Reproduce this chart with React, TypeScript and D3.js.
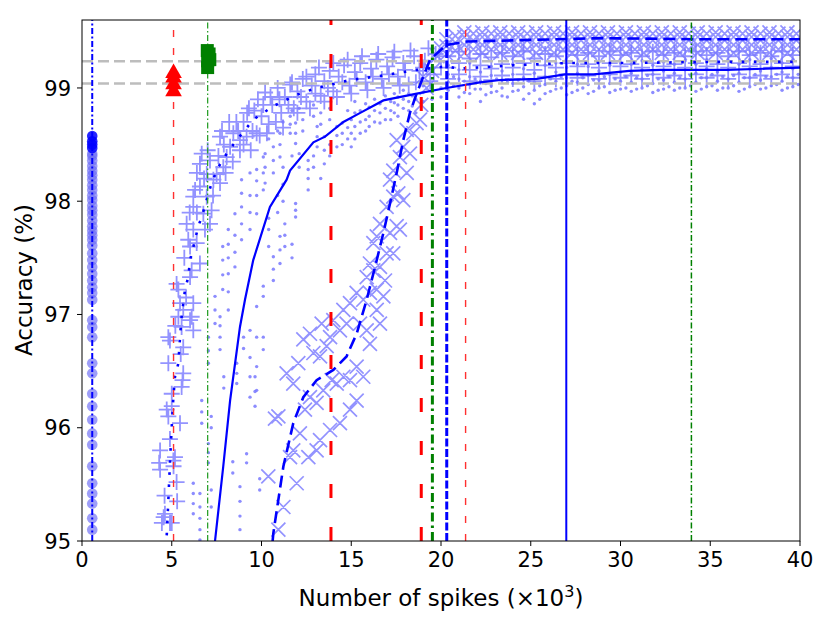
import React from 'react';
import * as d3 from 'd3';

// Accuracy vs number of spikes (x in thousands)
const W = 830;
const H = 623;

const circleX = 0.57;
const circleAcc = [95.1, 95.2, 95.33, 95.42, 95.51, 95.66, 95.85, 95.95, 96.07, 96.19, 96.3, 96.48, 96.57, 96.8, 96.89, 96.95,
  97.13, 97.19, 97.24, 97.3, 97.36, 97.42, 97.48, 97.54, 97.61, 97.66, 97.7, 97.74, 97.78, 97.83, 97.88, 97.92, 97.96, 98.01,
  98.05, 98.1, 98.14, 98.19, 98.23, 98.27, 98.31, 98.36, 98.4, 98.42];
const circleTopAcc = [98.47, 98.5, 98.53, 98.575];

const triangleX = 5.1;
const triangleAcc = [98.97, 99.03, 99.09, 99.13];
const squarePts: [number, number][] = [[7.0, 99.18], [7.0, 99.24], [7.08, 99.3], [7.12, 99.25], [6.98, 99.33]];

const grayLevels = [99.236, 99.04];

const vLineX = [0.57, 5.1, 7.0, 13.87, 18.9, 19.52, 20.32, 21.37, 26.98, 33.95];

const plusPts: [number, number][] = [
  [4.45, 95.16], [5.0, 95.16], [4.55, 95.21], [4.62, 95.24], [4.9, 95.16], [4.35, 95.8], [4.35, 95.63], [4.3, 95.69],
  [5.09, 95.71], [5.1, 95.66], [5.18, 95.74], [5.27, 95.52], [5.0, 96.19], [5.0, 96.3], [4.72, 96.16], [4.81, 96.1],
  [5.46, 96.04], [5.55, 96.36], [4.81, 96.8], [4.9, 96.77], [4.81, 96.57], [5.64, 96.48], [5.64, 96.71], [5.6, 96.42],
  [5.37, 96.98], [5.55, 96.89], [6.02, 96.95], [6.2, 96.86], [5.37, 97.22], [5.27, 97.27], [5.46, 97.1], [5.64, 97.04],
  [6.2, 97.1], [6.11, 96.98], [5.83, 97.8], [5.92, 97.66], [6.02, 97.6], [6.39, 97.63], [6.2, 97.75], [6.57, 97.45],
  [6.11, 97.39], [6.02, 97.33], [6.3, 98.1], [6.2, 98.04], [6.57, 98.13], [6.95, 98.04], [7.22, 97.92], [6.76, 97.89],
  [7.13, 97.8], [6.85, 97.75], [6.67, 98.42], [6.57, 98.33], [7.13, 98.36], [7.5, 98.24], [7.69, 98.16], [7.87, 98.3],
  [7.32, 98.19], [6.95, 98.24], [7.69, 98.57], [8.43, 98.6], [8.8, 98.54], [8.25, 98.48], [9.17, 98.57], [9.73, 98.6],
  [8.06, 98.39], [8.8, 98.45], [7.9, 98.5], [8.6, 98.7],
  [5.7, 97.5], [5.8, 97.15], [6.0, 97.9], [5.5, 96.65], [5.2, 96.9], [4.6, 95.4], [4.9, 95.9], [5.3, 95.35],
  [6.4, 98.25], [6.2, 97.95], [6.4, 97.9], [6.8, 98.2], [7.0, 98.45], [7.3, 98.05], [7.6, 98.4], [7.8, 98.62],
  [8.0, 98.25], [8.2, 98.7], [8.4, 98.35], [8.7, 98.62], [9.0, 98.5], [9.2, 98.78], [9.4, 98.45], [9.6, 98.8],
  [9.9, 98.58], [10.1, 98.85], [10.3, 98.6], [10.5, 98.92], [10.8, 98.7], [11.0, 98.9], [11.2, 98.65], [11.5, 98.85],
  [11.7, 99.05], [12.0, 98.78], [12.2, 98.92], [12.5, 99.1], [12.7, 98.82], [13.0, 98.95], [13.2, 99.18], [13.5, 98.88],
  [13.7, 99.0], [14.0, 99.22], [14.2, 98.92], [14.5, 99.05], [14.8, 99.25], [15.0, 98.95], [15.3, 99.08], [15.6, 99.28],
  [15.9, 98.98], [16.2, 99.1], [16.5, 99.3], [16.8, 99.0], [17.1, 99.12], [17.4, 99.32], [17.7, 99.02], [18.0, 99.16],
  [18.3, 99.33], [18.6, 99.05], [19.0, 99.18], [19.3, 99.35], [19.6, 99.12], [19.9, 99.28],
  [9.0, 98.7], [9.3, 98.82], [9.5, 98.62], [9.8, 98.9], [10.0, 98.75], [10.2, 98.96], [10.4, 98.68], [10.6, 98.85],
  [10.9, 99.0], [11.1, 98.78], [11.3, 98.92], [11.6, 99.03], [11.8, 98.82], [12.0, 98.97], [12.3, 99.08], [12.5, 98.88],
  [12.8, 99.02], [13.0, 99.12], [13.3, 98.93], [13.5, 99.06], [13.8, 99.15], [14.0, 98.97], [14.3, 99.1], [14.6, 99.2],
  [14.9, 99.02], [15.2, 99.14], [15.5, 99.22], [15.8, 99.05], [16.1, 99.17], [16.4, 99.25], [16.7, 99.08], [17.0, 99.19],
  [17.3, 99.27], [17.6, 99.1], [17.9, 99.22], [18.2, 99.03], [18.5, 99.28], [18.8, 99.15], [19.1, 99.24], [19.4, 99.06],
  [19.7, 99.3], [20.0, 99.18],
];

const plusCols = [
  [20.4, 99.08, 99.18, 99.28], [21.0, 99.12, 99.22, 99.32], [21.6, 99.06, 99.16, 99.26], [22.2, 99.1, 99.2, 99.3],
  [22.8, 99.07, 99.17, 99.27], [23.4, 99.11, 99.21, 99.31], [24.0, 99.08, 99.18, 99.28], [24.6, 99.12, 99.22, 99.32],
  [25.2, 99.06, 99.16, 99.26], [25.8, 99.1, 99.2, 99.3], [26.4, 99.08, 99.18, 99.28], [27.0, 99.12, 99.22, 99.32],
  [27.6, 99.09, 99.19, 99.29], [28.2, 99.11, 99.21, 99.31], [28.8, 99.08, 99.18, 99.28], [29.4, 99.12, 99.22, 99.32],
  [30.0, 99.09, 99.19, 99.29], [30.6, 99.11, 99.21, 99.31], [31.2, 99.08, 99.18, 99.28], [31.8, 99.12, 99.22, 99.32],
  [32.4, 99.09, 99.19, 99.29], [33.0, 99.11, 99.21, 99.31], [33.6, 99.08, 99.18, 99.28], [34.2, 99.12, 99.22, 99.32],
  [34.8, 99.09, 99.19, 99.29], [35.4, 99.11, 99.21, 99.31], [36.0, 99.08, 99.18, 99.28], [36.6, 99.12, 99.22, 99.32],
  [37.2, 99.09, 99.19, 99.29], [37.8, 99.11, 99.21, 99.31], [38.4, 99.08, 99.18, 99.28], [39.0, 99.12, 99.22, 99.32],
  [39.6, 99.09, 99.19, 99.29],
];

const crossPts: [number, number][] = [
  [10.38, 95.57], [10.94, 95.1], [11.22, 95.3], [11.96, 95.51], [11.59, 95.74], [11.77, 95.8], [12.61, 95.74], [13.07, 95.8],
  [13.26, 95.89], [13.82, 95.98], [14.37, 96.04], [14.93, 96.16], [15.3, 96.24], [12.14, 95.95], [12.42, 96.16], [12.7, 96.27],
  [13.07, 96.22], [13.44, 96.33], [13.91, 96.42], [14.19, 96.39], [14.56, 96.45], [14.93, 96.42], [15.3, 96.54], [15.67, 96.45],
  [11.4, 96.48], [11.77, 96.39], [12.05, 96.57], [12.33, 96.78], [12.7, 96.83], [12.89, 96.66], [13.26, 96.63], [13.63, 96.72],
  [13.82, 96.8], [13.35, 96.92], [14.0, 96.95], [14.37, 96.86], [14.74, 96.92], [14.56, 97.04], [14.93, 97.1], [15.3, 97.19],
  [15.67, 97.13], [16.04, 97.19], [15.86, 97.33], [16.23, 97.39], [16.04, 97.45], [16.6, 97.42], [16.42, 97.22], [15.49, 96.92],
  [15.86, 96.86], [16.04, 96.74], [16.42, 97.04], [16.79, 97.16], [16.6, 96.92], [16.88, 97.3], [16.97, 97.54], [16.23, 97.63],
  [16.42, 97.69], [17.16, 97.72], [17.34, 97.54], [17.53, 97.78], [16.6, 97.8], [16.97, 97.95], [17.71, 97.75], [17.62, 98.07],
  [17.34, 98.04], [17.9, 98.01], [17.16, 98.19], [17.34, 98.27], [18.09, 98.25], [17.71, 98.39], [17.9, 98.48], [18.27, 98.42],
  [17.53, 98.54], [18.46, 98.6], [18.64, 98.69], [18.09, 98.63], [18.83, 98.72], [10.75, 96.08], [10.94, 96.1],
  [18.9, 98.85], [19.2, 99.0], [19.5, 99.15], [19.8, 99.28], [20.0, 99.35], [19.0, 99.1],
];

const crossCols = [
  [20.3, 99.3, 99.37, 99.43], [20.8, 99.33, 99.4, 99.46], [21.3, 99.31, 99.38, 99.45, 99.49], [21.8, 99.34, 99.42, 99.48],
  [22.3, 99.31, 99.38, 99.45, 99.49], [22.8, 99.34, 99.42, 99.48], [23.3, 99.31, 99.38, 99.45, 99.49], [23.8, 99.34, 99.42, 99.48],
  [24.3, 99.31, 99.38, 99.45, 99.49], [24.8, 99.34, 99.42, 99.48], [25.3, 99.31, 99.38, 99.45, 99.49], [25.8, 99.34, 99.42, 99.48],
  [26.3, 99.31, 99.38, 99.45, 99.49], [26.8, 99.34, 99.42, 99.48], [27.3, 99.31, 99.38, 99.45, 99.49], [27.8, 99.34, 99.42, 99.48],
  [28.3, 99.31, 99.38, 99.45, 99.49], [28.8, 99.34, 99.42, 99.48], [29.3, 99.31, 99.38, 99.45, 99.49], [29.8, 99.34, 99.42, 99.48],
  [30.3, 99.31, 99.38, 99.45, 99.49], [30.8, 99.34, 99.42, 99.48], [31.3, 99.31, 99.38, 99.45, 99.49], [31.8, 99.34, 99.42, 99.48],
  [32.3, 99.31, 99.38, 99.45, 99.49], [32.8, 99.34, 99.42, 99.48], [33.3, 99.31, 99.38, 99.45, 99.49], [33.8, 99.34, 99.42, 99.48],
  [34.3, 99.31, 99.38, 99.45, 99.49], [34.8, 99.34, 99.42, 99.48], [35.3, 99.31, 99.38, 99.45, 99.49], [35.8, 99.34, 99.42, 99.48],
  [36.3, 99.31, 99.38, 99.45, 99.49], [36.8, 99.34, 99.42, 99.48], [37.3, 99.31, 99.38, 99.45, 99.49], [37.8, 99.34, 99.42, 99.48],
  [38.3, 99.31, 99.38, 99.45, 99.49], [38.8, 99.34, 99.42, 99.48], [39.3, 99.31, 99.38, 99.45, 99.49], [39.8, 99.34, 99.42, 99.48],
];

const dotCols = [
  [6.2, 95.24, 95.33, 95.42, 95.51], [6.57, 95.01, 95.1, 95.2, 95.3, 95.42], [6.67, 96.04, 96.14, 96.24],
  [7.04, 95.69, 95.78, 95.86, 96.57, 96.68, 96.8], [7.41, 96.92, 97.04, 97.16], [7.69, 96.69, 96.8, 96.9, 96.98],
  [7.84, 97.22, 97.35, 97.48, 97.6], [8.15, 97.04, 97.2, 97.36, 97.5, 97.62, 97.75], [8.52, 97.42, 97.55, 97.7, 97.89],
  [8.62, 96.39, 96.48, 96.57], [8.8, 95.1, 95.22, 95.35, 95.48], [8.89, 97.66, 97.8, 97.95, 98.07, 98.19],
  [9.17, 95.69, 95.77], [9.36, 96.27, 96.45, 96.62, 96.86, 97.75, 97.9, 98.05, 98.25], [9.64, 96.19, 96.32, 96.45],
  [9.73, 96.33, 96.54, 96.8, 97.07, 97.89, 98.05, 98.18, 98.28], [10.1, 96.69, 96.8, 97.16, 97.25, 98.1, 98.25, 98.39],
  [10.2, 98.16, 98.3, 98.42], [10.66, 97.3, 97.4, 97.51, 98.25, 98.36, 98.48], [11.03, 97.45, 97.57, 97.69, 98.39, 98.5, 98.6],
  [11.3, 97.6, 97.7, 97.8], [11.6, 98.6, 98.68, 98.75], [11.9, 97.86, 97.92, 97.98, 98.51, 98.6, 98.69], [12.3, 98.62, 98.72],
  [12.6, 98.1, 98.2, 98.28, 98.36], [13.1, 98.48, 98.57, 98.66], [13.5, 98.33, 98.45, 98.57], [14.2, 98.48, 98.58, 98.66],
  [14.5, 98.5, 98.6, 98.69], [15.0, 98.48, 98.6, 98.72], [15.5, 98.6, 98.7, 98.8], [16.0, 98.66, 98.75, 98.83],
  [16.6, 98.69, 98.78, 98.86], [17.2, 98.72, 98.8, 98.88], [17.6, 98.75, 98.85, 98.92], [18.2, 98.8, 98.88, 98.95],
  [18.6, 98.78, 98.9],
  [10.4, 97.6, 97.75, 97.85, 98.55], [10.9, 97.9, 98.05, 98.62], [11.2, 98.0, 98.15, 98.3, 98.7], [11.7, 97.5, 97.62, 98.4, 98.8],
  [12.1, 98.3, 98.42, 98.82], [12.9, 98.3, 98.4, 98.75, 98.85], [13.3, 98.2, 98.68, 98.78], [13.8, 98.4, 98.5, 98.72, 98.82],
  [14.8, 98.55, 98.65, 98.8], [15.2, 98.55, 98.66, 98.78, 98.88], [15.8, 98.62, 98.72, 98.86], [16.3, 98.7, 98.8, 98.9],
  [16.9, 98.72, 98.82, 98.93], [17.4, 98.78, 98.87, 98.95], [17.9, 98.82, 98.9, 98.98], [18.4, 98.84, 98.93],
  [19.0, 98.88, 98.96, 99.02], [19.5, 98.9, 98.98], [20.0, 98.92, 99.0],
  [7.2, 95.3, 95.45, 96.0, 96.1], [7.9, 96.35, 96.45], [8.4, 95.6, 95.7], [9.0, 96.7, 96.8], [9.9, 95.45, 95.55],
  [20.4, 98.98, 99.05, 99.12, 99.2], [21.0, 98.92, 99.0, 99.08, 99.16], [21.6, 98.95, 99.03, 99.1, 99.22],
  [22.2, 98.88, 98.99, 99.06, 99.14], [22.8, 98.96, 99.02, 99.11, 99.19], [23.4, 98.93, 99.0, 99.07, 99.15],
  [24.0, 98.97, 99.04, 99.12, 99.21], [24.6, 98.9, 99.01, 99.09, 99.17], [25.2, 98.86, 98.98, 99.05, 99.13],
  [25.8, 98.95, 99.03, 99.1, 99.2], [26.4, 98.99, 99.06, 99.14, 99.22], [27.0, 98.94, 99.02, 99.09, 99.18],
  [27.6, 98.98, 99.05, 99.13, 99.21], [28.2, 98.95, 99.03, 99.11, 99.19], [28.8, 99.0, 99.07, 99.15, 99.23],
  [29.4, 98.96, 99.04, 99.12, 99.2], [30.0, 98.99, 99.06, 99.14, 99.22], [30.6, 98.97, 99.05, 99.13, 99.21],
  [31.2, 99.0, 99.08, 99.16, 99.24], [31.8, 98.96, 99.04, 99.12, 99.2], [32.4, 98.99, 99.07, 99.15, 99.23],
  [33.0, 98.98, 99.05, 99.13, 99.21], [33.6, 99.0, 99.08, 99.16, 99.24], [34.2, 98.97, 99.05, 99.13, 99.21],
  [34.8, 99.01, 99.09, 99.17, 99.25], [35.4, 98.98, 99.06, 99.14, 99.22], [36.0, 99.0, 99.08, 99.16, 99.24],
  [36.6, 98.97, 99.05, 99.13, 99.21], [37.2, 99.01, 99.09, 99.17, 99.25], [37.8, 98.99, 99.07, 99.15, 99.23],
  [38.4, 99.02, 99.1, 99.18, 99.26], [39.0, 98.98, 99.06, 99.14, 99.22], [39.6, 99.01, 99.09, 99.17, 99.25],
  [20.7, 99.02, 99.1], [21.3, 98.96, 99.06], [21.9, 98.99, 99.08], [22.5, 98.94, 99.04], [23.1, 98.97, 99.08],
  [23.7, 98.92, 99.05], [24.3, 98.98, 99.07], [24.9, 98.95, 99.06], [25.5, 98.9, 99.02], [26.1, 98.97, 99.08],
  [26.7, 99.0, 99.1], [27.3, 98.96, 99.06], [27.9, 99.0, 99.09], [28.5, 98.97, 99.07], [29.1, 99.01, 99.1],
  [29.7, 98.98, 99.08], [30.3, 99.0, 99.1], [30.9, 98.99, 99.09], [31.5, 99.02, 99.11], [32.1, 98.98, 99.08],
  [32.7, 99.01, 99.1], [33.3, 99.0, 99.09], [33.9, 99.02, 99.11], [34.5, 98.99, 99.09], [35.1, 99.02, 99.12],
  [35.7, 99.0, 99.1], [36.3, 99.02, 99.11], [36.9, 98.99, 99.09], [37.5, 99.03, 99.12], [38.1, 99.0, 99.1],
  [38.7, 99.03, 99.12], [39.3, 99.0, 99.1], [39.9, 99.03, 99.12],
];

// mean curves
const plusMean: [number, number][] = [
  [4.72, 95.05], [4.81, 95.36], [4.9, 95.69], [4.99, 95.98], [5.09, 96.27], [5.18, 96.45], [5.37, 96.57], [5.46, 96.8],
  [5.55, 96.98], [5.74, 97.22], [5.92, 97.33], [6.02, 97.48], [6.3, 97.66], [6.48, 97.78], [6.67, 97.86], [6.94, 98.01],
  [7.22, 98.16], [7.59, 98.3], [8.06, 98.42], [8.62, 98.54], [9.54, 98.72], [10.66, 98.84], [11.96, 98.94], [13.07, 99.0],
  [14.93, 99.07], [16.79, 99.11], [18.65, 99.16], [20.3, 99.19], [21.0, 99.17], [24.0, 99.2], [27.0, 99.22], [30.0, 99.22],
  [35.0, 99.23], [40.0, 99.23],
];
const dotMean: [number, number][] = [
  [7.41, 95.0], [7.87, 95.66], [8.25, 96.24], [8.8, 96.89], [9.08, 97.13], [9.54, 97.48], [10.47, 97.95], [11.4, 98.19],
  [11.59, 98.27], [12.89, 98.52], [13.54, 98.57], [14.56, 98.7], [15.5, 98.78], [16.79, 98.89], [18.65, 98.95], [20.3, 99.0],
  [22.17, 99.05], [23.3, 99.07], [25.33, 99.08], [26.9, 99.12], [28.5, 99.12], [30.5, 99.15], [32.2, 99.16], [35.9, 99.16],
  [38.1, 99.17], [40.0, 99.18],
];
const crossMean: [number, number][] = [
  [10.62, 95.0], [10.66, 95.07], [11.22, 95.66], [11.77, 96.04], [12.33, 96.27], [13.07, 96.42], [14.0, 96.51], [14.74, 96.63],
  [15.3, 96.83], [15.86, 97.13], [16.42, 97.48], [16.79, 97.72], [17.16, 97.98], [17.53, 98.25], [17.9, 98.54], [18.27, 98.78],
  [18.64, 98.95], [19.39, 99.25], [20.3, 99.38], [21.43, 99.41], [24.03, 99.42], [28.9, 99.44], [34.4, 99.43], [40.0, 99.43],
];

const xTicks = [0, 5, 10, 15, 20, 25, 30, 35, 40];
const yTicks = [95, 96, 97, 98, 99];

const vLineStyle = [
  { c: '#0000ff', w: 2, d: '6,2.5,2,2.5' },
  { c: '#ff3030', w: 1.4, d: '7,11' },
  { c: '#2ca02c', w: 1.3, d: '6,2.5,1.5,2.5' },
  { c: '#ff0000', w: 3, d: '14,29' },
  { c: '#ff0000', w: 3, d: '14,29' },
  { c: '#008000', w: 3, d: '9,4,2.5,4' },
  { c: '#0000ff', w: 3, d: '8,2.5' },
  { c: '#ff3030', w: 1.4, d: '7,11' },
  { c: '#0000ff', w: 2, d: '' },
  { c: '#008000', w: 1.5, d: '6,2.5,1.5,2.5' },
];

const flat = (cols: number[][]): [number, number][] =>
  cols.flatMap(c => c.slice(1).map(v => [c[0], v] as [number, number]));

const FONT = 'DejaVu Sans, sans-serif';
const MARK = '#7878ff';

export default function App() {
  const x = d3.scaleLinear().domain([0, 40]).range([82, 800]);
  const y = d3.scaleLinear().domain([95, 99.6]).range([541, 20]);
  const line = d3.line<[number, number]>().x(d => x(d[0])).y(d => y(d[1]));

  const allPlus = plusPts.concat(flat(plusCols));
  const allCross = crossPts.concat(flat(crossCols));
  const allDots = flat(dotCols);

  const ph = 8;
  const xh = 7;
  const plusPath = allPlus
    .map(([a, b]) => `M${x(a) - ph},${y(b)}H${x(a) + ph}M${x(a)},${y(b) - ph}V${y(b) + ph}`)
    .join('');
  const crossPath = allCross
    .map(([a, b]) => {
      const cx = x(a), cy = y(b);
      return `M${cx - xh},${cy - xh}L${cx + xh},${cy + xh}M${cx - xh},${cy + xh}L${cx + xh},${cy - xh}`;
    })
    .join('');
  const tri = d3.symbol(d3.symbolTriangle, 120)();

  return (
    <div style={{ position: 'absolute', left: 0, top: 0 }}>
      <svg width={W} height={H} style={{ display: 'block', background: '#fff' }} fontFamily={FONT}>
        <defs>
          <clipPath id="plot">
            <rect x={82} y={20} width={718} height={521} />
          </clipPath>
        </defs>
        <g clipPath="url(#plot)">
          {allDots.map(([a, b], i) => (
            <circle key={'d' + i} cx={x(a)} cy={y(b)} r={1.7} fill={MARK} opacity={0.85} />
          ))}
          <path d={plusPath} stroke={MARK} strokeWidth={1.8} fill="none" opacity={0.8} />
          <path d={crossPath} stroke={MARK} strokeWidth={1.7} fill="none" opacity={0.8} />
          {circleAcc.map((v, i) => (
            <circle key={'c' + i} cx={x(circleX)} cy={y(v)} r={5.3} fill="#6a6af5" opacity={0.65} />
          ))}
          {circleTopAcc.map((v, i) => (
            <circle key={'ct' + i} cx={x(circleX)} cy={y(v)} r={5.3} fill="#0000ff" opacity={0.85} />
          ))}
          {grayLevels.map((v, i) => (
            <line key={'g' + i} x1={82} x2={800} y1={y(v)} y2={y(v)} stroke="#bdbdbd" strokeWidth={2.5} strokeDasharray="11,5" />
          ))}
          <path d={line(plusMean) || ''} fill="none" stroke="#0000ff" strokeWidth={2.6} strokeDasharray="2.6,9.5" />
          <path d={line(dotMean) || ''} fill="none" stroke="#0000ff" strokeWidth={2.2} />
          <path d={line(crossMean) || ''} fill="none" stroke="#0000ff" strokeWidth={2.6} strokeDasharray="12,6" />
          {vLineX.map((v, i) => (
            <line
              key={'v' + i}
              x1={x(v)} x2={x(v)} y1={541} y2={20}
              stroke={vLineStyle[i].c}
              strokeWidth={vLineStyle[i].w}
              strokeDasharray={vLineStyle[i].d || undefined}
            />
          ))}
          {triangleAcc.map((v, i) => (
            <path key={'t' + i} d={tri || ''} transform={`translate(${x(triangleX)},${y(v)})`} fill="#ff0000" />
          ))}
          {squarePts.map(([a, b], i) => (
            <rect key={'s' + i} x={x(a) - 6.5} y={y(b) - 6.5} width={13} height={13} fill="#008000" />
          ))}
        </g>
        <rect x={82} y={20} width={718} height={521} fill="none" stroke="#000" strokeWidth={1} />
        {xTicks.map(t => (
          <g key={'xt' + t}>
            <line x1={x(t)} x2={x(t)} y1={541} y2={546} stroke="#000" />
            <text x={x(t)} y={567} textAnchor="middle" fontSize={21}>{t}</text>
          </g>
        ))}
        {yTicks.map(t => (
          <g key={'yt' + t}>
            <line x1={77} x2={82} y1={y(t)} y2={y(t)} stroke="#000" />
            <text x={71} y={y(t)} dy="0.36em" textAnchor="end" fontSize={21}>{t}</text>
          </g>
        ))}
        <text x={441} y={606} textAnchor="middle" fontSize={23}>
          Number of spikes (×10<tspan dy={-9} fontSize={16}>3</tspan><tspan dy={9}>)</tspan>
        </text>
        <text transform="translate(32,280) rotate(-90)" textAnchor="middle" fontSize={23}>Accuracy (%)</text>
      </svg>
    </div>
  );
}
